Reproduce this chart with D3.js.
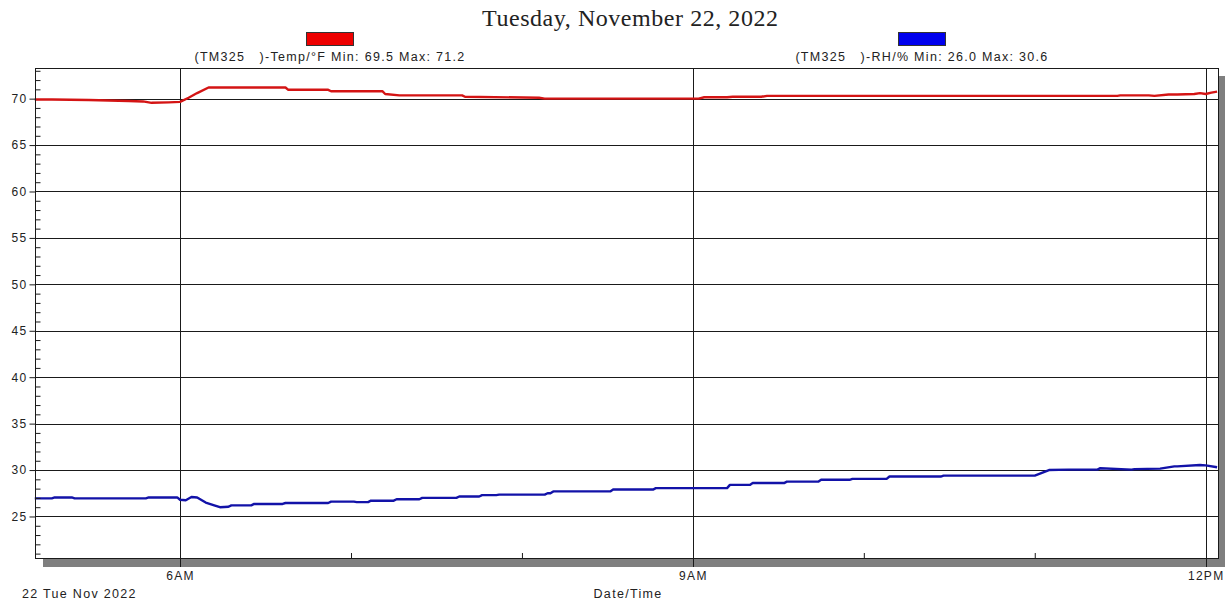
<!DOCTYPE html>
<html>
<head>
<meta charset="utf-8">
<script src="https://cdn.jsdelivr.net/npm/d3@7"></script>
<style>
  html, body { margin: 0; padding: 0; background: #fff; }
  svg { display: block; }
  .lbl { font-family: "Liberation Sans", Arial, sans-serif; fill: #222; letter-spacing: 1.3px; white-space: pre; }
</style>
</head>
<body>
<svg id="chart" width="1225" height="606"></svg>
<script>
// Logger readings for 22 Nov 2022 (time of day, reading)
const tempTimes = ["05:09","05:15","05:28","05:35","05:42","05:47","05:50","05:56","06:00","06:03","06:06","06:10","06:37","06:38","06:52","06:53","07:11","07:12","07:17","07:39","07:40","08:06","08:08","08:40","08:41","09:02","09:04","09:12","09:14","09:24","09:26","11:29","11:30","11:40","11:42","11:47","11:50","11:56","11:58","12:00","12:02","12:04"];
const tempValues = [69.9,69.9,69.85,69.8,69.75,69.7,69.55,69.6,69.65,70.1,70.6,71.2,71.2,70.95,70.95,70.8,70.8,70.5,70.35,70.35,70.2,70.1,70.0,70.0,70.0,70.0,70.15,70.15,70.2,70.2,70.3,70.3,70.35,70.35,70.3,70.45,70.45,70.5,70.6,70.5,70.65,70.75];

const rhTimes = ["05:09","05:15","05:16","05:22","05:23","05:48","05:49","05:59","06:00","06:02","06:04","06:06","06:09","06:12","06:14","06:17","06:18","06:25","06:26","06:36","06:37","06:52","06:53","07:01","07:02","07:06","07:07","07:15","07:16","07:24","07:25","07:37","07:38","07:45","07:46","07:51","07:52","08:08","08:09","08:10","08:11","08:31","08:32","08:46","08:47","09:12","09:13","09:20","09:21","09:32","09:33","09:44","09:45","09:55","09:56","10:08","10:09","10:27","10:28","11:00","11:05","11:12","11:22","11:23","11:34","11:35","11:44","11:49","11:50","11:58","12:00","12:04"];
const rhValues = [26.95,26.95,27.05,27.05,26.95,26.95,27.05,27.05,26.8,26.75,27.1,27.05,26.5,26.2,26.0,26.05,26.2,26.2,26.35,26.35,26.45,26.45,26.6,26.6,26.55,26.55,26.7,26.7,26.85,26.85,27.0,27.0,27.15,27.15,27.3,27.3,27.35,27.35,27.5,27.5,27.7,27.7,27.9,27.9,28.05,28.05,28.4,28.4,28.6,28.6,28.75,28.75,28.95,28.95,29.05,29.05,29.3,29.3,29.4,29.4,30.0,30.05,30.05,30.2,30.05,30.1,30.15,30.4,30.4,30.55,30.5,30.3];

const yTickValues = [25,30,35,40,45,50,55,60,65,70];
const xTickTimes = ["06:00","09:00","12:00"];
const xTickLabels = ["6AM","9AM","12PM"];
const xMinorTimes = ["07:00","08:00","10:00","11:00"];

const chartTitle = "Tuesday, November 22, 2022";
const legendLabels = ["(TM325   )-Temp/°F Min: 69.5 Max: 71.2", "(TM325   )-RH/% Min: 26.0 Max: 30.6"];
const seriesColors = ["#d41414", "#1212a8"];

const parseT = d3.timeParse("%Y-%m-%d %H:%M");
const toDate = s => parseT("2022-11-22 " + s);

const temp = tempTimes.map((t, i) => ({t: toDate(t), v: tempValues[i]}));
const rh = rhTimes.map((t, i) => ({t: toDate(t), v: rhValues[i]}));

const svg = d3.select("#chart");
const plot = {left: 35, top: 68, right: 1219, bottom: 559};

const x = d3.scaleTime()
  .domain([new Date(2022, 10, 22, 5, 9, 5), new Date(2022, 10, 22, 12, 4, 40)])
  .range([plot.left, plot.right]);
const y = d3.scaleLinear()
  .domain([20.42, 73.3])
  .range([plot.bottom, plot.top]);

// title
svg.append("text")
  .attr("x", 630).attr("y", 26)
  .attr("text-anchor", "middle")
  .attr("font-family", "'Liberation Serif', 'Times New Roman', serif")
  .attr("font-size", 24)
  .attr("textLength", 296)
  .attr("fill", "#222")
  .text(chartTitle);

// legend swatches and captions
const legendX = [330, 922];
legendLabels.forEach((lab, i) => {
  svg.append("rect")
    .attr("x", legendX[i] - 23.5).attr("y", 32.5)
    .attr("width", 47).attr("height", 13)
    .attr("fill", i === 0 ? "#ee0000" : "#0000ee")
    .attr("stroke", "#333").attr("stroke-width", 1);
  svg.append("text")
    .attr("class", "lbl")
    .attr("x", legendX[i]).attr("y", 61)
    .attr("text-anchor", "middle")
    .attr("font-size", 12.5)
    .text(lab);
});

// drop shadow behind the plot frame
svg.append("rect")
  .attr("x", plot.left + 8).attr("y", plot.top + 8)
  .attr("width", plot.right - plot.left).attr("height", plot.bottom - plot.top)
  .attr("fill", "#7f7f7f");
svg.append("rect")
  .attr("x", plot.left).attr("y", plot.top)
  .attr("width", plot.right - plot.left).attr("height", plot.bottom - plot.top)
  .attr("fill", "#fff");

// horizontal grid
svg.append("g")
  .selectAll("line")
  .data(yTickValues)
  .join("line")
  .attr("x1", plot.left).attr("x2", plot.right)
  .attr("y1", d => Math.round(y(d)) + 0.5).attr("y2", d => Math.round(y(d)) + 0.5)
  .attr("stroke", "#1a1a1a").attr("stroke-width", 1);

// vertical grid at the labelled hours, extending past the axis as ticks
svg.append("g")
  .selectAll("line")
  .data(xTickTimes)
  .join("line")
  .attr("x1", d => Math.round(x(toDate(d))) + 0.5).attr("x2", d => Math.round(x(toDate(d))) + 0.5)
  .attr("y1", plot.top).attr("y2", plot.bottom + 8)
  .attr("stroke", "#1a1a1a").attr("stroke-width", 1);

// series
const line = d3.line().x(d => x(d.t)).y(d => y(d.v)).curve(d3.curveLinear);
const series = [temp, rh];
series.forEach((s, i) => {
  svg.append("path")
    .datum(s)
    .attr("fill", "none")
    .attr("stroke", seriesColors[i])
    .attr("stroke-width", 2.4)
    .attr("stroke-linejoin", "round")
    .attr("d", line);
});

// frame
svg.append("rect")
  .attr("x", plot.left + 0.5).attr("y", plot.top + 0.5)
  .attr("width", plot.right - plot.left - 1).attr("height", plot.bottom - plot.top - 1)
  .attr("fill", "none").attr("stroke", "#1a1a1a").attr("stroke-width", 1);

// left axis: major ticks outside, unit minor ticks inside
const yAxis = d3.axisLeft(y)
  .tickValues(yTickValues)
  .tickSize(6)
  .tickPadding(2)
  .tickFormat(d3.format("d"));
const gy = svg.append("g")
  .attr("transform", `translate(${plot.left + 0.5},0)`)
  .call(yAxis);
gy.select(".domain").remove();
gy.selectAll("line").attr("stroke", "#1a1a1a");
gy.selectAll("text").attr("class", "lbl").attr("font-size", 12).attr("font-family", null).attr("fill", "#333");

const minorY = d3.range(21, 74).filter(v => v % 5 !== 0);
const gyMinor = svg.append("g")
  .attr("transform", `translate(${plot.left + 0.5},0)`)
  .call(d3.axisRight(y).tickValues(minorY).tickSize(5).tickFormat(""));
gyMinor.select(".domain").remove();
gyMinor.selectAll("line").attr("stroke", "#1a1a1a");

// bottom axis labels
const gx = svg.append("g")
  .attr("transform", `translate(0,${plot.bottom})`)
  .call(d3.axisBottom(x)
    .tickValues(xTickTimes.map(toDate))
    .tickSize(0)
    .tickPadding(12)
    .tickFormat((d, i) => xTickLabels[i]));
gx.select(".domain").remove();
gx.selectAll("text").attr("class", "lbl").attr("font-size", 12).attr("font-family", null).attr("fill", "#333");

// hourly minor ticks, pointing up into the plot
const gxMinor = svg.append("g")
  .attr("transform", `translate(0,${plot.bottom})`)
  .call(d3.axisTop(x).tickValues(xMinorTimes.map(toDate)).tickSize(6).tickFormat(""));
gxMinor.select(".domain").remove();
gxMinor.selectAll("line").attr("stroke", "#1a1a1a");

// date and axis caption
svg.append("text").attr("class", "lbl")
  .attr("x", 22).attr("y", 598).attr("font-size", 12.5)
  .text("22 Tue Nov 2022");
svg.append("text").attr("class", "lbl")
  .attr("x", 628).attr("y", 598).attr("font-size", 12.5)
  .attr("text-anchor", "middle")
  .text("Date/Time");
</script>
</body>
</html>
